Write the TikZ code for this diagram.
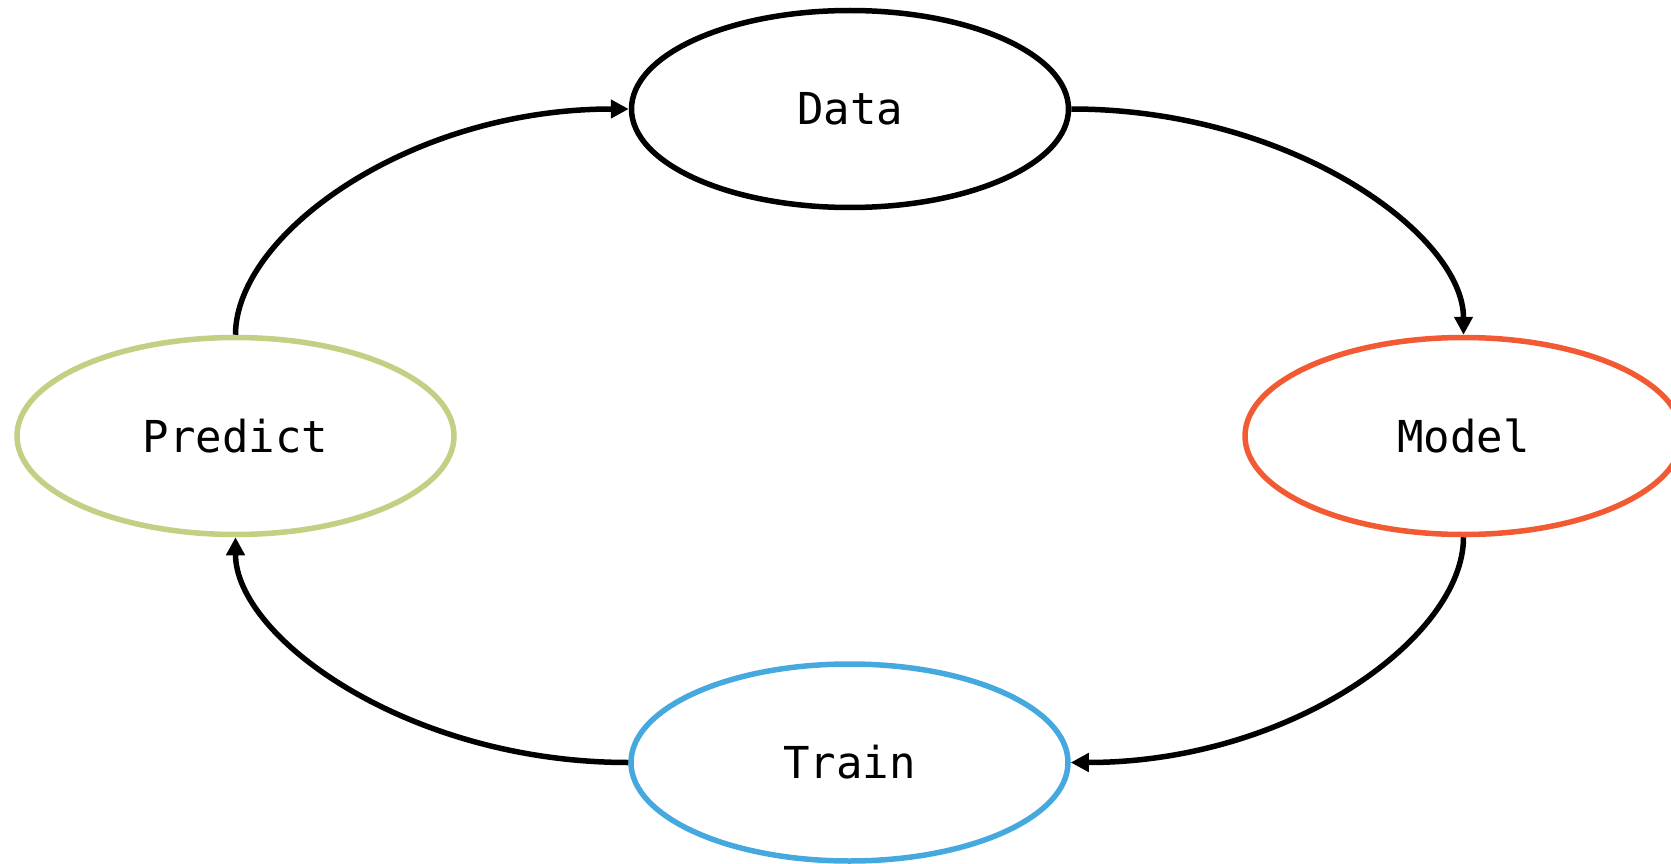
\documentclass[tikz,border=0pt]{standalone}
\usepackage{fontspec}
\setmonofont{DejaVu Sans Mono}
\usetikzlibrary{shapes.geometric,arrows.meta}
\definecolor{modelred}{HTML}{F15A33}
\definecolor{trainblue}{HTML}{45A9DF}
\definecolor{predictgreen}{HTML}{C3D084}
\tikzset{
  stage/.style={ellipse, draw=black, line width=5.5pt, inner sep=0pt,
    minimum width=437pt, minimum height=197pt,
    font=\ttfamily\fontsize{44}{52}\selectfont},
  flow/.style={line width=5.5pt, -{Triangle[length=18pt,width=18pt]}}
}
\begin{document}
\begin{tikzpicture}[x=1pt, y=-1pt]
  \useasboundingbox (0,0) rectangle (1671,864);
  \node[stage] (data) at (850,109) {Data};
  \node[stage, draw=modelred] (model) at (1463.5,436) {Model};
  \node[stage, draw=trainblue] (train) at (849.5,762.5) {Train};
  \node[stage, draw=predictgreen] (predict) at (235.5,436) {Predict};
  \draw[flow] (data.east) .. controls +(220,0) and +(0,-100) .. (model.north);
  \draw[flow] (model.south) .. controls +(0,100) and +(220,0) .. (train.east);
  \draw[flow] (train.west) .. controls +(-220,0) and +(0,100) .. (predict.south);
  \draw[flow] (predict.north) .. controls +(0,-100) and +(-220,0) .. (data.west);
\end{tikzpicture}
\end{document}
